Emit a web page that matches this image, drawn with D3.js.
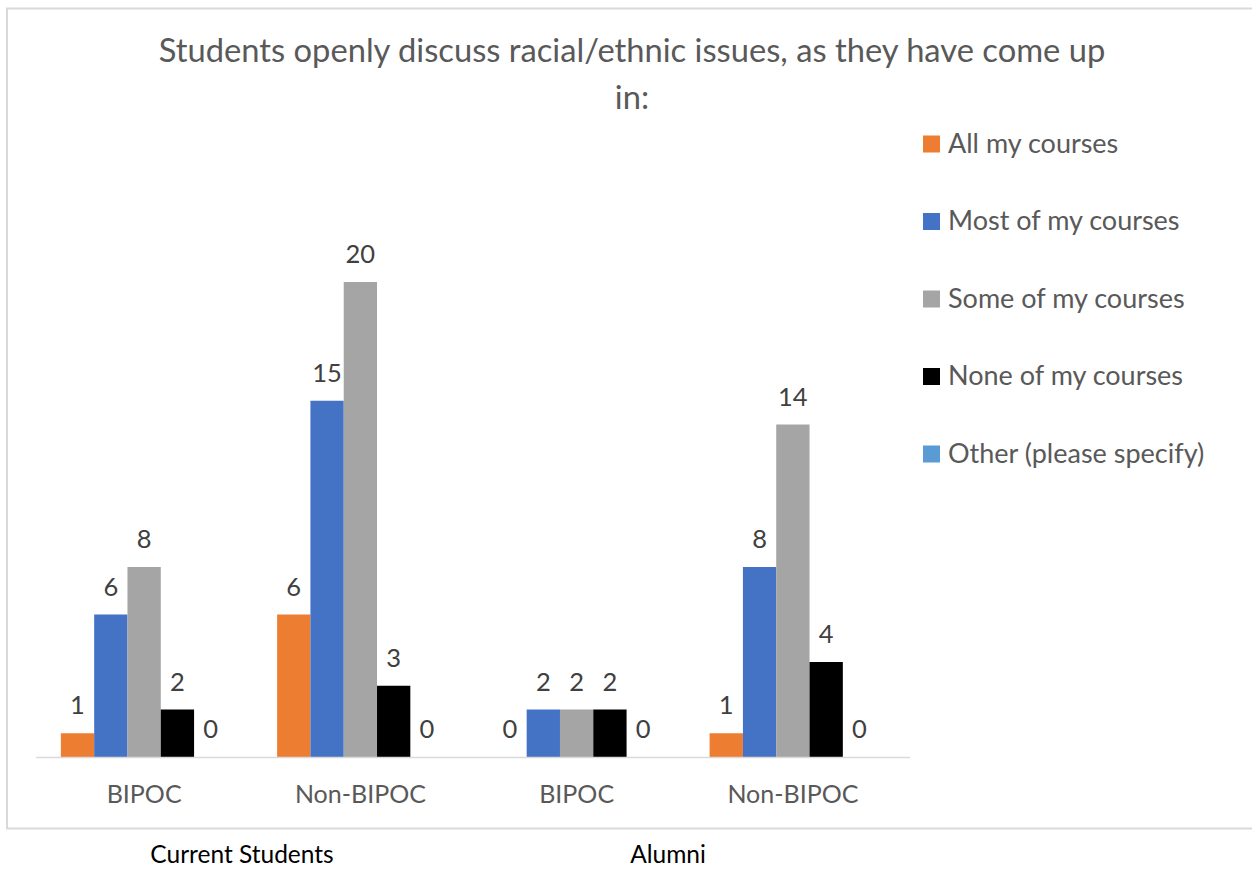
<!DOCTYPE html>
<html>
<head>
<meta charset="utf-8">
<script src="https://cdn.jsdelivr.net/npm/d3@7"></script>
<style>
  html, body { margin: 0; padding: 0; background: #ffffff; }
  svg { display: block; font-family: Lato, "Open Sans", sans-serif; }
</style>
</head>
<body>
<svg id="chart" width="1252" height="870"></svg>
<script>
// Response categories (legend order) and their colours
const seriesNames = ["All my courses", "Most of my courses", "Some of my courses", "None of my courses", "Other (please specify)"];
const seriesColors = ["#ED7D31", "#4472C4", "#A5A5A5", "#000000", "#5B9BD5"];

// Respondent groups along the x axis
const categories = ["BIPOC", "Non-BIPOC", "BIPOC ", "Non-BIPOC "];
const groupLabels = ["Current Students", "Alumni"];

// Counts per series, one value per category
const allCourses   = [1, 6, 0, 1];
const mostCourses  = [6, 15, 2, 8];
const someCourses  = [8, 20, 2, 14];
const noneCourses  = [2, 3, 2, 4];
const otherCourses = [0, 0, 0, 0];
const seriesValues = [allCourses, mostCourses, someCourses, noneCourses, otherCourses];

const titleLines = ["Students openly discuss racial/ethnic issues, as they have come up", "in:"];

const svg = d3.select("#chart");

// Chart frame (right edge runs past the page)
svg.append("rect")
  .attr("x", 7).attr("y", 8.5)
  .attr("width", 1280).attr("height", 820)
  .attr("fill", "none").attr("stroke", "#d9d9d9").attr("stroke-width", 2);

// Title
svg.append("text")
  .attr("text-anchor", "middle")
  .attr("fill", "#595959")
  .style("font-size", "32.7px")
  .selectAll("tspan").data(titleLines).join("tspan")
  .attr("x", 632)
  .attr("y", (d, i) => 62 + i * 47)
  .text(d => d);

// Scales
const x0 = d3.scaleBand()
  .domain(categories)
  .range([36, 901])
  .paddingInner(0.23)
  .paddingOuter(0.115);

const x1 = d3.scaleBand()
  .domain(d3.range(seriesNames.length))
  .range([0, x0.bandwidth()]);

const y = d3.scaleLinear().domain([0, 25]).range([757, 163.25]);

// Bars
const rows = [];
categories.forEach((c, ci) => {
  seriesValues.forEach((vals, si) => rows.push({ cat: c, s: si, v: vals[ci] }));
});

const g = svg.append("g");
g.selectAll("rect.bar").data(rows).join("rect")
  .attr("class", "bar")
  .attr("x", d => x0(d.cat) + x1(d.s))
  .attr("y", d => y(d.v))
  .attr("width", x1.bandwidth())
  .attr("height", d => y(0) - y(d.v))
  .attr("fill", d => seriesColors[d.s]);

// Value labels
g.selectAll("text.val").data(rows).join("text")
  .attr("class", "val")
  .attr("x", d => x0(d.cat) + x1(d.s) + x1.bandwidth() / 2)
  .attr("y", d => y(d.v) - 19)
  .attr("text-anchor", "middle")
  .attr("fill", "#404040")
  .style("font-size", "25.5px")
  .text(d => d.v);

// Category axis
const xAxis = svg.append("g")
  .attr("transform", `translate(0,${y(0)})`)
  .call(d3.axisBottom(x0).tickSize(0).tickPadding(0).tickFormat(d => d.trim()));
xAxis.select(".domain").attr("stroke", "#d9d9d9").attr("stroke-width", 1.5)
  .attr("d", `M36,0.5H910`);
xAxis.selectAll("text")
  .attr("dy", null)
  .attr("y", 46)
  .attr("fill", "#595959")
  .style("font-family", "Lato, 'Open Sans', sans-serif")
  .style("font-size", "25px");

// Group labels beneath the frame
const groupX = [242, 668];
svg.selectAll("text.grp").data(groupLabels).join("text")
  .attr("class", "grp")
  .attr("x", (d, i) => groupX[i])
  .attr("y", 863)
  .attr("text-anchor", "middle")
  .attr("fill", "#000000")
  .style("font-size", "24.5px")
  .text(d => d);

// Legend
const legend = svg.append("g");
const items = legend.selectAll("g").data(seriesNames).join("g")
  .attr("transform", (d, i) => `translate(923,${135.5 + i * 77.5})`);
items.append("rect")
  .attr("width", 17).attr("height", 17)
  .attr("fill", (d, i) => seriesColors[i]);
items.append("text")
  .attr("x", 25).attr("y", 17)
  .attr("fill", "#595959")
  .style("font-size", "27px")
  .text(d => d);
</script>
</body>
</html>
